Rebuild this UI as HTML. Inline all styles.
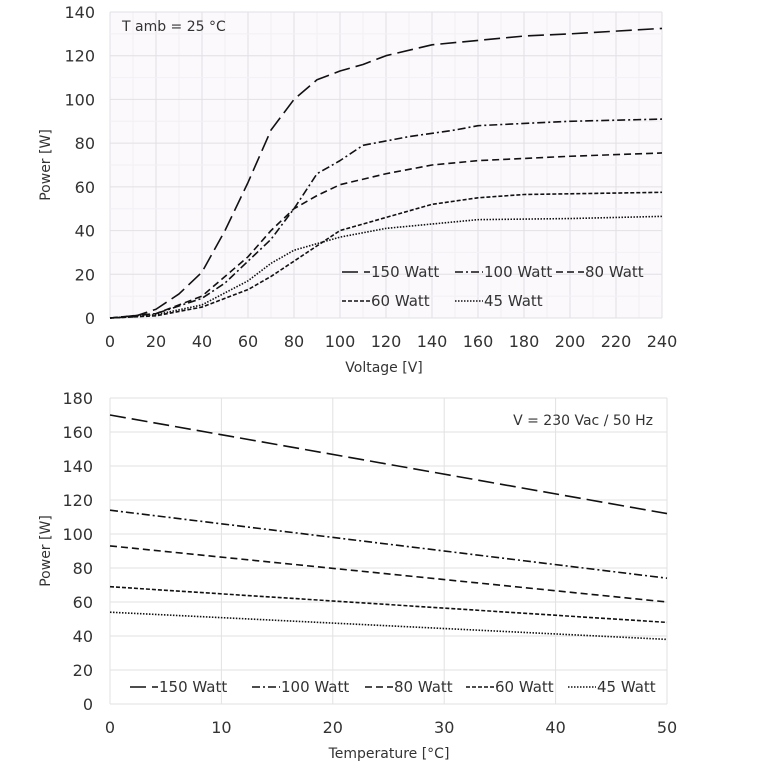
<!DOCTYPE html>
<html><head><meta charset="utf-8"><style>
body{margin:0;background:#fff;width:767px;height:767px;overflow:hidden}
svg{font-family:"DejaVu Sans","Liberation Sans",sans-serif}
</style></head><body>
<svg id="s" width="767" height="767" xmlns="http://www.w3.org/2000/svg"></svg>
<script>
(function(){
const s=document.getElementById('s');let h='';
const X1=v=>110+v*(552/240),Y1=p=>318-p*(306/140);
h+='<rect x="110" y="12" width="552" height="306" fill="#fbf9fc"/>';
for(let v=0;v<=240;v+=10){h+=`<line x1="${X1(v)}" y1="12" x2="${X1(v)}" y2="318" stroke="${v%20?'#f3f0f5':'#e2e0e4'}" stroke-width="1"/>`;}
for(let p=0;p<=140;p+=10){h+=`<line x1="110" y1="${Y1(p)}" x2="662" y2="${Y1(p)}" stroke="${p%20?'#f3f0f5':'#e2e0e4'}" stroke-width="1"/>`;}
for(let v=0;v<=240;v+=20)h+=`<text x="${X1(v)}" y="347" font-size="16" text-anchor="middle" fill="#333">${v}</text>`;
for(let p=0;p<=140;p+=20)h+=`<text x="95" y="${Y1(p)+6}" font-size="16" text-anchor="end" fill="#333">${p}</text>`;
h+=`<text x="384" y="372" font-size="14" text-anchor="middle" fill="#333">Voltage  [V]</text>`;
h+=`<text transform="translate(50,165) rotate(-90)" font-size="14" text-anchor="middle" fill="#333">Power [W]</text>`;
h+=`<text x="122" y="31" font-size="14" fill="#333">T amb = 25 °C</text>`;
const dash={a:'16,6',b:'8,3,2,3',c:'7,4',d:'4,2',e:'1.5,1.5'};
const curves=[['a',[[0,0],[10,.5],[20,4],[30,11],[40,21],[50,40],[60,62],[70,86],[80,100],[90,109],[100,113],[110,116],[120,120],[140,125],[160,127],[180,129],[200,130],[240,132.5]]],
['b',[[0,0],[20,2],[40,9],[50,16],[60,26],[70,36],[80,50],[90,66],[100,72],[110,79],[130,83],[150,86],[160,88],[200,90],[240,91]]],
['c',[[0,0],[20,2],[40,10],[60,28],[70,40],[80,50],[90,56],[100,61],[120,66],[140,70],[160,72],[180,73],[200,74],[240,75.5]]],
['d',[[0,0],[20,1],[40,5],[60,13],[70,19],[80,26],[90,33],[100,40],[120,46],[140,52],[160,55],[180,56.5],[240,57.5]]],
['e',[[0,0],[20,1.5],[40,6],[60,17],[70,25],[80,31],[100,37],[120,41],[140,43],[160,45],[200,45.5],[240,46.5]]]];
for(const [k,pts] of curves){h+=`<polyline fill="none" stroke="#111" stroke-width="1.6" stroke-linejoin="round" stroke-dasharray="${dash[k]}" points="${pts.map(q=>X1(q[0])+','+Y1(q[1])).join(' ')}"/>`;}
function leg(x,y,k,t){h+=`<line x1="${x}" y1="${y}" x2="${x+28}" y2="${y}" stroke="#111" stroke-width="1.6" stroke-dasharray="${dash[k]}"/><text x="${x+29}" y="${y+5}" font-size="15" fill="#333">${t}</text>`;}
leg(342,272,'a','150 Watt');leg(455,272,'b','100 Watt');leg(556,272,'c','80 Watt');
leg(342,301,'d','60 Watt');leg(455,301,'e','45 Watt');
const X2=t=>110+t*(557/50),Y2=p=>704-p*(306/180);
for(let t=0;t<=50;t+=10)h+=`<line x1="${X2(t)}" y1="398" x2="${X2(t)}" y2="704" stroke="#e2e2e2"/>`;
for(let p=0;p<=180;p+=20)h+=`<line x1="110" y1="${Y2(p)}" x2="667" y2="${Y2(p)}" stroke="#e2e2e2"/>`;
for(let t=0;t<=50;t+=10)h+=`<text x="${X2(t)}" y="733" font-size="16" text-anchor="middle" fill="#333">${t}</text>`;
for(let p=0;p<=180;p+=20)h+=`<text x="93" y="${Y2(p)+6}" font-size="16" text-anchor="end" fill="#333">${p}</text>`;
h+=`<text x="389" y="758" font-size="14" text-anchor="middle" fill="#333">Temperature [°C]</text>`;
h+=`<text transform="translate(50,551) rotate(-90)" font-size="14" text-anchor="middle" fill="#333">Power [W]</text>`;
h+=`<text x="653" y="425" font-size="14" text-anchor="end" fill="#333">V = 230 Vac / 50 Hz</text>`;
const bot=[['a',170,112],['b',114,74],['c',93,60],['d',69,48],['e',54,38]];
for(const [k,a,b] of bot)h+=`<line x1="110" y1="${Y2(a)}" x2="667" y2="${Y2(b)}" stroke="#111" stroke-width="1.6" stroke-dasharray="${dash[k]}"/>`;
leg(130,687,'a','150 Watt');leg(252,687,'b','100 Watt');leg(365,687,'c','80 Watt');leg(466,687,'d','60 Watt');leg(568,687,'e','45 Watt');
s.innerHTML=h;
})();
</script>
</body></html>
